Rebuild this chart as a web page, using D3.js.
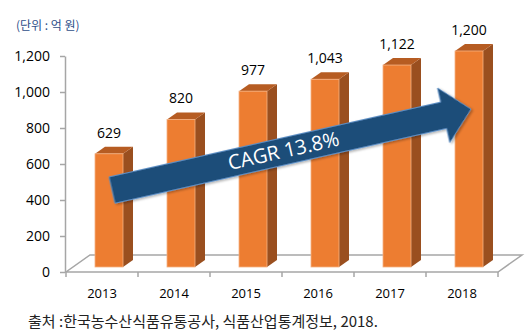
<!DOCTYPE html>
<html>
<head>
<meta charset="utf-8">
<script src="https://cdn.jsdelivr.net/npm/d3@7"></script>
<style>
  body { margin: 0; background: #fff; }
  svg { display: block; }
</style>
</head>
<body>
<div id="chart"></div>
<script>
// 데이터
const years = ["2013", "2014", "2015", "2016", "2017", "2018"];
const values = [629, 820, 977, 1043, 1122, 1200];
const yTicks = [0, 200, 400, 600, 800, 1000, 1200];
const unitLabel = "(단위 : 억 원)";
const sourceLabel = "출처 :한국농수산식품유통공사, 식품산업통계정보, 2018.";
const cagrLabel = "CAGR 13.8%";
// 화살표 시작/끝 (연도, 값 기준)
const arrowFrom = ["2013", 455];
const arrowTo = ["2018", 905];

const W = 532, H = 334;
const svg = d3.select("#chart").append("svg")
    .attr("width", W)
    .attr("height", H);

const numFont = "'Open Sans', 'Liberation Sans', sans-serif";
const krFont = "'Noto Sans CJK KR', sans-serif";

// 스케일
const x = d3.scaleBand().domain(years).range([66, 498]).padding(0);
const y = d3.scaleLinear().domain([0, 1200]).range([272, 56]);

const y0 = y(0);
const floorDepth = [24, -17];
const barOffset = [7, -5];   // 바닥 안쪽으로 들어간 위치
const barDepth = [10, -7];
const barW = 28;

// 바닥 (3D floor)
const [fx0, fx1] = x.range();
svg.append("path")
    .attr("d", `M${fx0},${y0} L${fx1},${y0} L${fx1 + floorDepth[0]},${y0 + floorDepth[1]} L${fx0 + floorDepth[0]},${y0 + floorDepth[1]} Z`)
    .attr("fill", "none")
    .attr("stroke", "#a6a6a6")
    .attr("stroke-width", 1.5);

// x축 눈금 (구간 경계)
svg.selectAll(".xtick")
    .data(d3.range(years.length + 1))
    .enter().append("line")
    .attr("x1", i => fx0 + i * x.bandwidth())
    .attr("x2", i => fx0 + i * x.bandwidth())
    .attr("y1", y0)
    .attr("y2", y0 + 5)
    .attr("stroke", "#a6a6a6")
    .attr("stroke-width", 1.5);

// y축
const yAxis = svg.append("g")
    .attr("transform", "translate(65,0)")
    .call(d3.axisLeft(y).tickValues(yTicks).tickSize(5).tickSizeOuter(0).tickPadding(10).tickFormat(d3.format(",")));
yAxis.select(".domain").attr("stroke", "#a6a6a6").attr("stroke-width", 1.5);
yAxis.selectAll(".tick line").attr("stroke", "#a6a6a6").attr("stroke-width", 1.5);
yAxis.selectAll("text")
    .attr("font-family", numFont)
    .attr("font-size", 14)
    .attr("fill", "#000");

// x축 라벨
const xAxis = svg.append("g")
    .attr("transform", `translate(0,${y0})`)
    .call(d3.axisBottom(x).tickSize(0).tickPadding(17));
xAxis.select(".domain").remove();
xAxis.selectAll("text")
    .attr("font-family", numFont)
    .attr("font-size", 13)
    .attr("fill", "#000");

// 막대 (3D)
const bars = svg.selectAll(".bar")
    .data(years.map((yr, i) => ({ year: yr, value: values[i] })))
    .enter().append("g")
    .attr("class", "bar");

const fx = d => x(d.year) + x.bandwidth() / 2 + barOffset[0] - barW / 2;
const fy = d => y(d.value) + barOffset[1];
const by = y0 + barOffset[1];

// 옆면
bars.append("path")
    .attr("d", d => {
        const x1 = fx(d) + barW, t = fy(d);
        return `M${x1},${t} L${x1 + barDepth[0]},${t + barDepth[1]} L${x1 + barDepth[0]},${by + barDepth[1]} L${x1},${by} Z`;
    })
    .attr("fill", "#9a4f1f");

// 윗면
bars.append("path")
    .attr("d", d => {
        const x1 = fx(d), t = fy(d);
        return `M${x1},${t} L${x1 + barDepth[0]},${t + barDepth[1]} L${x1 + barW + barDepth[0]},${t + barDepth[1]} L${x1 + barW},${t} Z`;
    })
    .attr("fill", "#b65c22");

// 앞면
bars.append("rect")
    .attr("x", fx)
    .attr("y", fy)
    .attr("width", barW)
    .attr("height", d => by - fy(d))
    .attr("fill", "#ed7d31")
    .attr("stroke", "#f4b183")
    .attr("stroke-width", 0.8);

// 값 라벨
bars.append("text")
    .attr("x", d => fx(d) + barW / 2)
    .attr("y", d => fy(d) + barDepth[1] - 9)
    .attr("text-anchor", "middle")
    .attr("font-family", numFont)
    .attr("font-size", 14)
    .attr("fill", "#000")
    .text(d => d3.format(",")(d.value));

// CAGR 화살표
const ax0 = x(arrowFrom[0]) + x.bandwidth() / 2 + 10, ay0 = y(arrowFrom[1]);
const ax1 = x(arrowTo[0]) + x.bandwidth() / 2 + 9, ay1 = y(arrowTo[1]);
const len = Math.hypot(ax1 - ax0, ay1 - ay0);
const ang = Math.atan2(ay1 - ay0, ax1 - ax0) * 180 / Math.PI;
const sw = 13.5, hw = 28, hl = 28;

const defs = svg.append("defs");
const shadow = defs.append("filter").attr("id", "shadow").attr("x", "-10%").attr("y", "-30%").attr("width", "120%").attr("height", "160%");
shadow.append("feDropShadow").attr("dx", 1.5).attr("dy", 1.5).attr("stdDeviation", 1.2).attr("flood-color", "#000").attr("flood-opacity", 0.3);

const arrow = svg.append("g")
    .attr("transform", `translate(${ax0},${ay0}) rotate(${ang})`);

arrow.append("path")
    .attr("d", `M0,${-sw} L${len - hl},${-sw} L${len - hl},${-hw} L${len},0 L${len - hl},${hw} L${len - hl},${sw} L0,${sw} Z`)
    .attr("fill", "#1f4e79")
    .attr("stroke", "#5b8ec4")
    .attr("stroke-width", 1)
    .attr("filter", "url(#shadow)");

arrow.append("text")
    .attr("x", 176)
    .attr("y", 1)
    .attr("text-anchor", "middle")
    .attr("dominant-baseline", "middle")
    .attr("font-family", numFont)
    .attr("font-size", 20)
    .attr("fill", "#fff")
    .text(cagrLabel);

// 단위
svg.append("text")
    .attr("x", 16)
    .attr("y", 30)
    .attr("font-family", krFont)
    .attr("font-size", 12)
    .attr("fill", "#2f4f8a")
    .text(unitLabel);

// 출처
svg.append("text")
    .attr("x", 28)
    .attr("y", 327)
    .attr("font-family", krFont)
    .attr("font-size", 15)
    .attr("fill", "#222")
    .text(sourceLabel);
</script>
</body>
</html>
